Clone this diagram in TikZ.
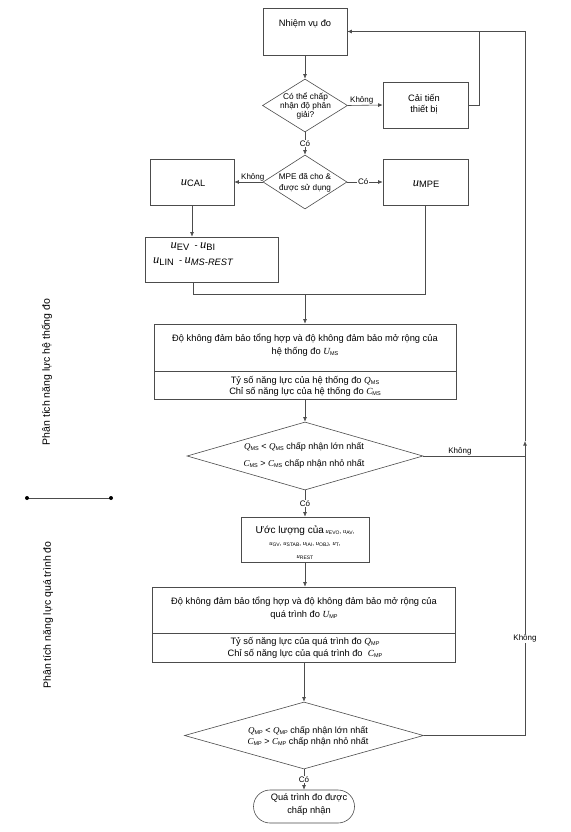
\documentclass[tikz,border=0pt]{standalone}
\usepackage{fontspec}
\setmainfont{Liberation Sans}
\newfontfamily\tnr{Liberation Serif}
\usetikzlibrary{shapes.geometric,shapes.misc,arrows.meta}
\newcommand{\bigu}[1]{{\tnr\itshape\fontsize{12.5}{12.5}\selectfont u}\raisebox{-1.5pt}{#1}}
\newcommand{\smu}[1]{{\tnr\itshape u}\raisebox{-0.8pt}{\fontsize{5}{5}\selectfont #1}}
\newcommand{\qq}[2]{{\tnr\itshape #1}\raisebox{-1pt}{\fontsize{5.5}{5.5}\selectfont #2}}
\tikzset{
  ln/.style={draw=black!70, line width=0.6pt},
  arr/.style={ln, -{Latex[length=4.5pt,width=3.8pt]}},
  box/.style={draw=black!70, line width=0.6pt, rectangle, inner sep=0pt, fill=white},
  dia/.style={draw=black!70, line width=0.6pt, diamond, inner sep=0pt, fill=white},
  term/.style={draw=black!70, line width=0.6pt, rounded rectangle, inner sep=0pt, fill=white},
  txt/.style={inner sep=0pt, align=center, font=\fontsize{9.3}{13}\selectfont},
  dtxt/.style={inner sep=0pt, align=center, font=\fontsize{8.3}{9.3}\selectfont},
  lbl/.style={inner sep=1pt, font=\fontsize{8}{9}\selectfont},
  side/.style={inner sep=0pt, rotate=90, font=\fontsize{10.5}{12}\selectfont},
}
\begin{document}
\begin{tikzpicture}[x=1pt,y=-1pt]
\fill[white] (0,0) rectangle (570,832);
\useasboundingbox (0,0) rectangle (570,832);

% nodes
\node[box, minimum width=84pt, minimum height=47pt] (n1) at (305,31.5) {};
\node[txt] (n1t) at (305,24) {Nhiệm vụ đo};

\node[dia, minimum width=85pt, minimum height=53pt] (d1) at (305,105.5) {};
\node[dtxt] (d1t) at (305.5,106) {Có thể chấp\\nhận độ phân\\giải?};

\node[box, minimum width=85pt, minimum height=46pt] (ci) at (425.5,105) {};
\node[txt, font=\fontsize{9.3}{10.5}\selectfont] (cit) at (424,104) {Cải tiến\\thiết bị};

\node[dia, minimum width=84pt, minimum height=54pt] (d2) at (305,182) {};
\node[dtxt, font=\fontsize{8.2}{11}\selectfont] (d2t) at (305,182.5) {MPE đã cho \&\\được sử dụng};

\node[box, minimum width=84pt, minimum height=46pt] (ucal) at (192,182) {};
\node[txt] (ucalt) at (193,183) {\bigu{CAL}};

\node[box, minimum width=85pt, minimum height=46pt] (umpe) at (425.5,182) {};
\node[txt] (umpet) at (426,184) {\bigu{MPE}};

\node[box, minimum width=133pt, minimum height=45pt] (uev) at (211.5,259.5) {};
\node[txt, font=\fontsize{9.3}{15}\selectfont] (uevt) at (193,254) {\bigu{EV}\ \ - \bigu{BI}\\\bigu{LIN}\ \ - \bigu{\itshape MS-REST}};

\coordinate (m1) at (305,294);

\node[box, minimum width=302pt, minimum height=47pt] (b1a) at (305,347.5) {};
\node[txt] (b1at) at (305,345.5) {Độ không đảm bảo tổng hợp và độ không đảm bảo mở rộng của\\hệ thống đo \qq{U}{MS}};
\node[box, minimum width=302pt, minimum height=28pt] (b1b) at (305,385) {};
\node[txt, font=\fontsize{9.3}{11}\selectfont] (b1bt) at (305,386.5) {Tỷ số năng lực của hệ thống đo \qq{Q}{MS}\\Chỉ số năng lực của hệ thống đo \qq{C}{MS}};

\node[dia, minimum width=236pt, minimum height=68pt] (d3) at (305,456) {};
\node[txt, font=\fontsize{9}{17}\selectfont] (d3t) at (304,455.5) {\qq{Q}{MS} < \qq{Q}{MS} chấp nhận lớn nhất\\\qq{C}{MS} > \qq{C}{MS} chấp nhận nhỏ nhất};

\node[box, minimum width=128pt, minimum height=45pt] (est) at (305,539.5) {};
\node[txt, font=\fontsize{6.5}{12.5}\selectfont] (estt) at (305,542.5) {{\fontsize{10}{10}\selectfont Ước lượng của} \smu{EVO}, \smu{AV},\\\smu{GV}, \smu{STAB}, \smu{IAI}, \smu{OBJ}, \smu{T},\\\smu{REST}};

\node[box, minimum width=303pt, minimum height=46pt] (b2a) at (303.5,610) {};
\node[txt] (b2at) at (304,608) {Độ không đảm bảo tổng hợp và độ không đảm bảo mở rộng của\\quá trình đo \qq{U}{MP}};
\node[box, minimum width=303pt, minimum height=29pt] (b2b) at (303.5,647.5) {};
\node[txt, font=\fontsize{9.3}{11.5}\selectfont] (b2bt) at (305,648) {Tỷ số năng lực của quá trình đo \qq{Q}{MP}\\Chỉ số năng lực của quá trình đo\ \ \qq{C}{MP}};

\node[dia, minimum width=239pt, minimum height=67pt] (d4) at (304,735.5) {};
\node[txt, font=\fontsize{9}{11}\selectfont] (d4t) at (308,736.5) {\qq{Q}{MP} < \qq{Q}{MP} chấp nhận lớn nhất\\\qq{C}{MP} > \qq{C}{MP} chấp nhận nhỏ nhất};

\node[term, minimum width=101pt, minimum height=33pt] (tm) at (304,806.5) {};
\node[txt, font=\fontsize{9.3}{13}\selectfont] (tmt) at (309,804.5) {Quá trình đo được\\chấp nhận};

% side labels
\node[side] (s1) at (47,372) {Phân tích năng lực hệ thống đo};
\node[side] (s2) at (48,615) {Phân tích năng lực quá trình đo};
\coordinate (dl) at (27,498);
\coordinate (dr) at (111,498);
\draw[ln] (dl) -- (dr);
\fill (dl) circle (2pt);
\fill (dr) circle (2pt);

% connectors
\draw[arr] (n1.south) -- (d1.north);
\draw[arr] (d1.east) -- node[lbl, above, pos=0.4] {Không} (ci.west);
\coordinate (c1) at (479,105);
\coordinate (c2) at (479,31.5);
\draw[ln] (ci.east) -- (c1) -- (c2);
\draw[arr] (d1.south) -- node[lbl, fill=white] (co1) {Có} (d2.north);
\draw[arr] (d2.west) -- node[lbl, above, pos=0.35] {Không} (ucal.east);
\draw[arr] (d2.east) -- node[lbl, fill=white, pos=0.45] {Có} (umpe.west);
\draw[arr] (ucal.south) -- (uev.north -| ucal.south);
\coordinate (l1) at (193,294);
\coordinate (l2) at (425.5,294);
\draw[ln] (uev.south -| l1) -- (l1) -- (l2) -- (umpe.south);
\draw[arr] (m1) -- (b1a.north);
\draw[arr] (b1b.south) -- (d3.north);
\draw[arr] (d3.south) -- node[lbl, fill=white] {Có} (est.north);
\draw[arr] (est.south) -- (b2a.north -| est.south);
\draw[arr] (b2b.south -| d4.north) -- (d4.north);
\draw[arr] (d4.south) -- node[lbl, fill=white] {Có} (tm.north);

\coordinate (r3) at (525,456);
\coordinate (r4) at (525,735.5);
\coordinate (ra) at (525,441);
\coordinate (rt) at (525,31.5);
\draw[ln] (d3.east) -- node[lbl, above, pos=0.36] {Không} (r3);
\draw[arr] (d4.east) -- (r4) -- node[lbl, fill=white, pos=0.33] {Không} (ra);
\draw[arr] (ra) -- (rt) -- (n1.east);
\end{tikzpicture}
\end{document}
